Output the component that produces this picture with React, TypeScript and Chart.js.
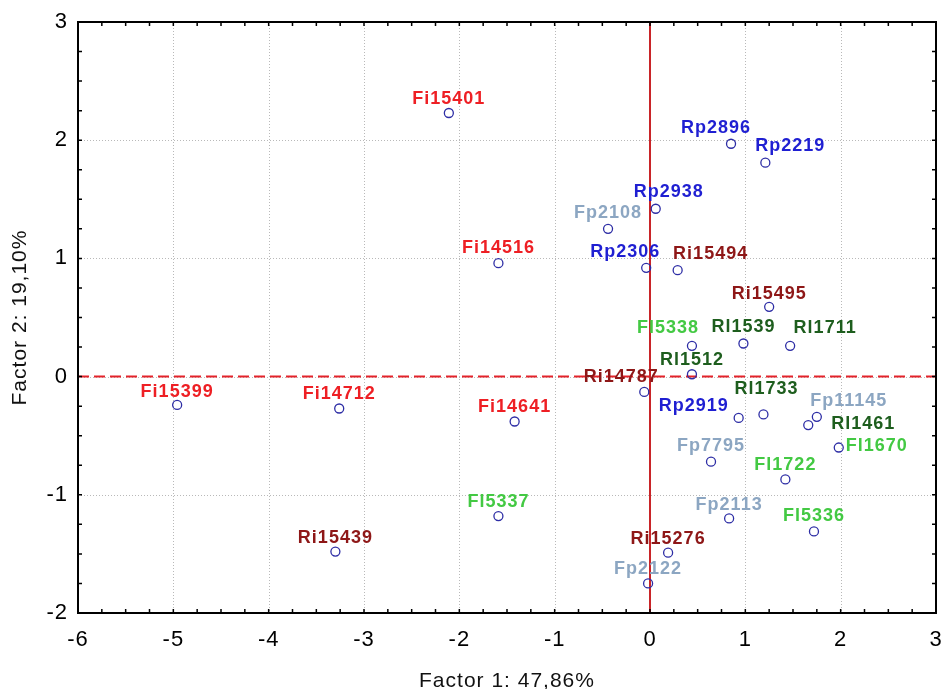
import React, { useEffect, useRef } from "react";
import { Chart, registerables } from "chart.js";

Chart.register(...registerables);

const names = [
  "Fi15401", "Rp2896", "Rp2219", "Rp2938", "Fp2108", "Fi14516", "Rp2306", "Ri15494",
  "Ri15495", "Fl5338", "Rl1539", "Rl1711", "Rl1512", "Ri14787", "Fi15399", "Fi14712",
  "Fi14641", "Rp2919", "Rl1733", "Fp11145", "Rl1461", "Fl1670", "Fp7795", "Fl1722",
  "Fl5337", "Fp2113", "Fl5336", "Ri15439", "Ri15276", "Fp2122",
];
const factor1 = [
  -2.11, 0.85, 1.21, 0.06, -0.44, -1.59, -0.04, 0.29,
  1.25, 0.44, 0.98, 1.47, 0.44, -0.06, -4.96, -3.26,
  -1.42, 0.93, 1.19, 1.75, 1.66, 1.98, 0.64, 1.42,
  -1.59, 0.83, 1.72, -3.30, 0.19, -0.02,
];
const factor2 = [
  2.23, 1.97, 1.81, 1.42, 1.25, 0.96, 0.92, 0.90,
  0.59, 0.26, 0.28, 0.26, 0.02, -0.13, -0.24, -0.27,
  -0.38, -0.35, -0.32, -0.34, -0.41, -0.60, -0.72, -0.87,
  -1.18, -1.20, -1.31, -1.48, -1.49, -1.75,
];
// label placement relative to its point (pixels)
const labelDx = [
  0, -15, 25, 13, 0, 0, -21, 33,
  0, -24, 0, 35, 0, -23, 0, 0,
  0, -45, 3, 32, 55, 38, 0, 0,
  0, 0, 0, 0, 0, 0,
];
const labelDy = [
  -14, -16, -17, -17, -16, -15, -16, -16,
  -13, -18, -16, -18, -14, -15, -13, -14,
  -14, -12, -25, -16, -1, -1, -16, -14,
  -14, -13, -15, -14, -14, -14,
];
const xMin = -6;
const xMax = 3;
const yMin = -2;
const yMax = 3;
const xTitle = "Factor 1: 47,86%";
const yTitle = "Factor 2: 19,10%";

const groupColors: Record<string, string> = {
  Fi: "#ee1f24",
  Fl: "#43c943",
  Fp: "#8ca6c2",
  Ri: "#8e1717",
  Rl: "#1e5e1e",
  Rp: "#1f1fd2",
};

const FONT = "Arial, 'Liberation Sans', sans-serif";

export default function App() {
  const ref = useRef<HTMLCanvasElement>(null);

  useEffect(() => {
    document.body.style.margin = "0";
    const canvas = ref.current;
    if (!canvas) return;

    const overlay = {
      id: "overlay",
      beforeUpdate(chart: any) {
        chart.ctx.letterSpacing = "1px";
      },
      beforeDraw(chart: any) {
        chart.ctx.letterSpacing = "1px";
      },
      beforeDatasetsDraw(chart: any) {
        const { ctx, chartArea: a, scales } = chart;
        const xs = scales.x;
        const ys = scales.y;
        ctx.save();
        ctx.beginPath();
        ctx.rect(a.left, a.top, a.right - a.left, a.bottom - a.top);
        ctx.clip();
        // dotted grid
        ctx.strokeStyle = "#b9b9b9";
        ctx.lineWidth = 1;
        ctx.setLineDash([1, 2]);
        for (let v = xMin + 1; v < xMax; v++) {
          const p = Math.round(xs.getPixelForValue(v)) + 0.5;
          ctx.beginPath();
          ctx.moveTo(p, a.top);
          ctx.lineTo(p, a.bottom);
          ctx.stroke();
        }
        for (let v = yMin + 1; v < yMax; v++) {
          const p = Math.round(ys.getPixelForValue(v)) + 0.5;
          ctx.beginPath();
          ctx.moveTo(a.left, p);
          ctx.lineTo(a.right, p);
          ctx.stroke();
        }
        // red reference lines
        const y0 = ys.getPixelForValue(0);
        ctx.setLineDash([11, 5]);
        ctx.strokeStyle = "#e3232a";
        ctx.lineWidth = 2;
        ctx.beginPath();
        ctx.moveTo(a.left, y0);
        ctx.lineTo(a.right, y0);
        ctx.stroke();
        const x0 = xs.getPixelForValue(0);
        ctx.setLineDash([]);
        ctx.strokeStyle = "#c92428";
        ctx.beginPath();
        ctx.moveTo(x0, a.top);
        ctx.lineTo(x0, a.bottom);
        ctx.stroke();
        ctx.restore();
      },
      afterDatasetsDraw(chart: any) {
        const { ctx, chartArea: a, scales } = chart;
        const xs = scales.x;
        const ys = scales.y;
        ctx.save();
        // point labels
        ctx.letterSpacing = "1px";
        ctx.font = "bold 18px " + FONT;
        ctx.textAlign = "center";
        ctx.textBaseline = "middle";
        names.forEach((n, i) => {
          const px = xs.getPixelForValue(factor1[i]);
          const py = ys.getPixelForValue(factor2[i]);
          ctx.fillStyle = groupColors[n.slice(0, 2)] || "#000";
          ctx.fillText(n, px + labelDx[i], py + labelDy[i]);
        });
        // frame
        ctx.strokeStyle = "#000";
        ctx.lineWidth = 2;
        ctx.strokeRect(a.left, a.top, a.right - a.left, a.bottom - a.top);
        // inward ticks on all four sides
        ctx.lineWidth = 1.5;
        const tl = 4;
        for (let i = 0; i <= (xMax - xMin) * 4; i++) {
          const p = xs.getPixelForValue(xMin + i * 0.25);
          ctx.beginPath();
          ctx.moveTo(p, a.bottom);
          ctx.lineTo(p, a.bottom - tl);
          ctx.moveTo(p, a.top);
          ctx.lineTo(p, a.top + tl);
          ctx.stroke();
        }
        for (let i = 0; i <= (yMax - yMin) * 4; i++) {
          const p = ys.getPixelForValue(yMin + i * 0.25);
          ctx.beginPath();
          ctx.moveTo(a.left, p);
          ctx.lineTo(a.left + tl, p);
          ctx.moveTo(a.right, p);
          ctx.lineTo(a.right - tl, p);
          ctx.stroke();
        }
        ctx.restore();
      },
    };

    const chart = new Chart(canvas, {
      type: "scatter",
      data: {
        datasets: [
          {
            data: factor1.map((x, i) => ({ x, y: factor2[i] })),
            pointRadius: 4.5,
            pointHoverRadius: 4.5,
            borderWidth: 1.3,
            borderColor: "#2d2da5",
            backgroundColor: "rgba(0,0,0,0)",
          },
        ],
      },
      options: {
        animation: false,
        responsive: false,
        devicePixelRatio: 1,
        layout: { padding: { top: 22, right: 6, left: 0, bottom: 0 } },
        plugins: {
          legend: { display: false },
          tooltip: { enabled: false },
        },
        scales: {
          x: {
            type: "linear",
            min: xMin,
            max: xMax,
            grid: { display: false },
            border: { display: false },
            ticks: {
              stepSize: 1,
              padding: 6,
              color: "#000",
              font: { family: FONT, size: 22 },
            },
            title: {
              display: true,
              text: xTitle,
              color: "#111",
              font: { family: FONT, size: 21, lineHeight: 1 },
              padding: { top: 0, bottom: -3 },
            },
            afterFit(scale: any) {
              scale.height = 76;
              scale.paddingLeft = 0;
              scale.paddingRight = 0;
            },
          },
          y: {
            type: "linear",
            min: yMin,
            max: yMax,
            grid: { display: false },
            border: { display: false },
            ticks: {
              stepSize: 1,
              padding: 2,
              color: "#000",
              font: { family: FONT, size: 22 },
            },
            title: {
              display: true,
              text: yTitle,
              color: "#111",
              font: { family: FONT, size: 21, lineHeight: 1 },
              padding: { top: 10, bottom: 0 },
            },
            afterFit(scale: any) {
              scale.width = 78;
              scale.paddingTop = 0;
              scale.paddingBottom = 0;
            },
          },
        },
      },
      plugins: [overlay],
    } as any);

    return () => chart.destroy();
  }, []);

  return (
    <div style={{ position: "absolute", left: 0, top: 0, width: 942, height: 689, background: "#fff" }}>
      <canvas ref={ref} width={942} height={689} style={{ width: 942, height: 689, display: "block" }} />
    </div>
  );
}
